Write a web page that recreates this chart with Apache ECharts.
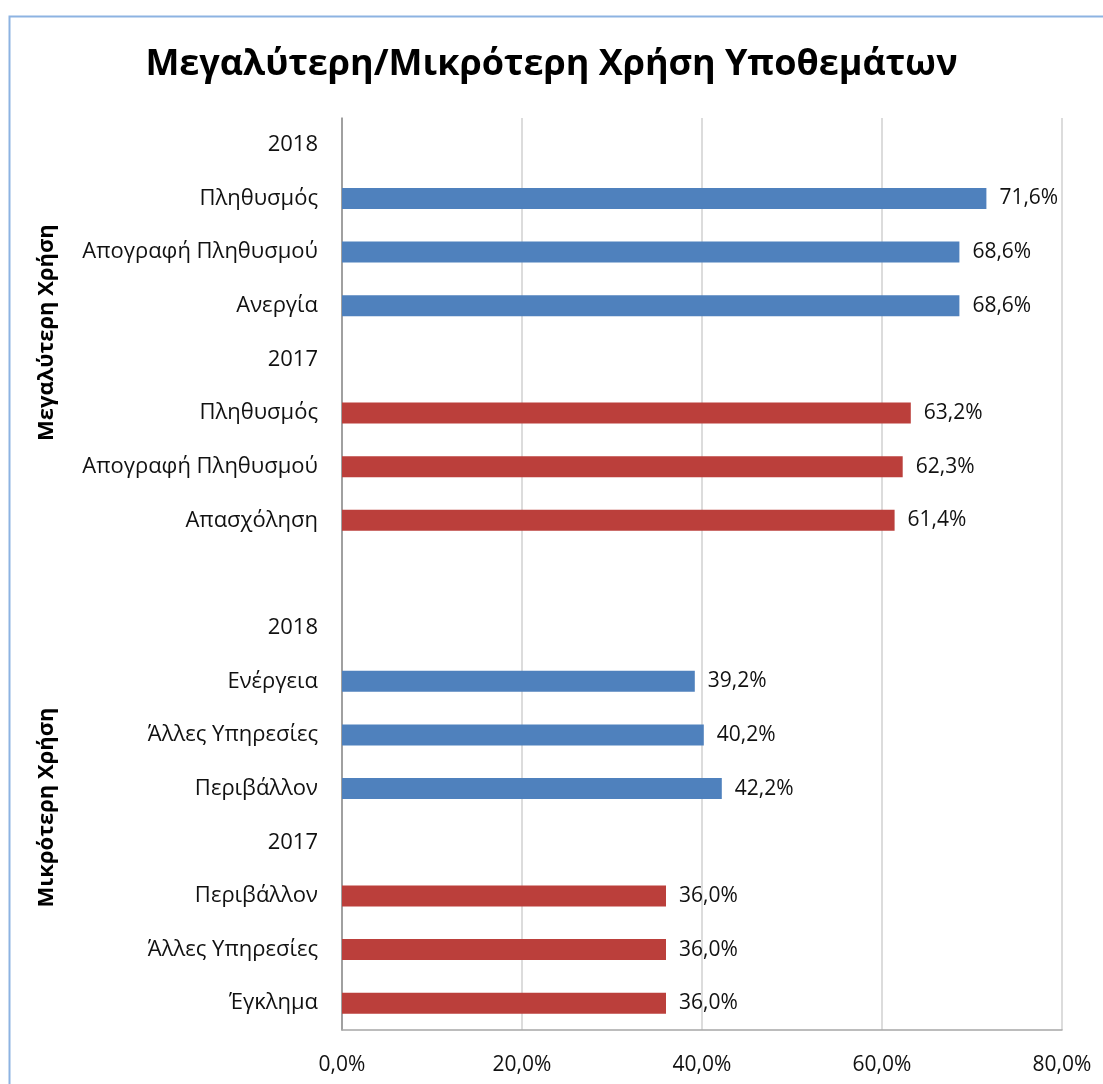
<!DOCTYPE html>
<html>
<head>
<meta charset="UTF-8">
<title>Μεγαλύτερη/Μικρότερη Χρήση Υποθεμάτων</title>
<style>
    html, body { margin: 0; padding: 0; background: #fff; }
    #chartArea { width: 1103px; height: 1084px; }
</style>
</head>
<body>
<div id="chartArea"></div>
<script src="https://cdn.jsdelivr.net/npm/echarts@6/dist/echarts.min.js"></script>
<script>
// rows top to bottom (year rows and one blank spacer row carry no bar)
var categories = [
    '2018', 'Πληθυσμός', 'Απογραφή Πληθυσμού', 'Ανεργία',
    '2017', 'Πληθυσμός', 'Απογραφή Πληθυσμού', 'Απασχόληση',
    '',
    '2018', 'Ενέργεια', 'Άλλες Υπηρεσίες', 'Περιβάλλον',
    '2017', 'Περιβάλλον', 'Άλλες Υπηρεσίες', 'Έγκλημα'
];
var values2018 = [null, 71.6, 68.6, 68.6, null, null, null, null, null,
                  null, 39.2, 40.2, 42.2, null, null, null, null];
var values2017 = [null, null, null, null, null, 63.2, 62.3, 61.4, null,
                  null, null, null, null, null, 36.0, 36.0, 36.0];
var xTicks = [0, 20, 40, 60, 80];
var groupNames = ['Μεγαλύτερη Χρήση', 'Μικρότερη Χρήση'];
var groupRows = [[0, 7], [9, 16]];

var font = '"Open Sans", "Noto Sans", sans-serif';
function pct(v) { return v.toFixed(1).replace('.', ',') + '%'; }

var myChart = echarts.init(document.getElementById('chartArea'));

myChart.setOption({
    animation: false,
    textStyle: { fontFamily: font },
    title: {
        text: 'Μεγαλύτερη/Μικρότερη Χρήση Υποθεμάτων',
        left: 'center',
        top: 42,
        textStyle: { fontSize: 36, fontWeight: 'bold', color: '#000', fontFamily: font }
    },
    grid: { left: 342, right: 41, top: 118, bottom: 54, containLabel: false },
    xAxis: {
        type: 'value',
        min: xTicks[0],
        max: xTicks[xTicks.length - 1],
        interval: 20,
        axisLine: { show: true, lineStyle: { color: '#a6a6a6', width: 1.5 } },
        axisTick: { show: false },
        splitLine: { show: true, lineStyle: { color: '#d0d0d0', width: 1.5 } },
        axisLabel: {
            margin: 25,
            fontSize: 21,
            color: '#111',
            formatter: function (v) { return pct(v); }
        }
    },
    yAxis: {
        type: 'category',
        inverse: true,
        data: categories,
        axisLine: { show: true, lineStyle: { color: '#8c8c8c', width: 1.5 } },
        axisTick: { show: false },
        splitLine: { show: false },
        axisLabel: { margin: 24, fontSize: 22, color: '#111', interval: 0 }
    },
    series: [
        {
            name: '2018',
            type: 'bar',
            data: values2018,
            barWidth: 21,
            barGap: '-100%',
            itemStyle: { color: '#4f81bd' },
            label: {
                show: true, position: 'right', distance: 13,
                fontSize: 21, color: '#111',
                formatter: function (p) { return pct(p.value); }
            }
        },
        {
            name: '2017',
            type: 'bar',
            data: values2017,
            barWidth: 21,
            barGap: '-100%',
            itemStyle: { color: '#bb3f3b' },
            label: {
                show: true, position: 'right', distance: 13,
                fontSize: 21, color: '#111',
                formatter: function (p) { return pct(p.value); }
            }
        }
    ]
});

// outer border and rotated group labels
var graphics = [{
    type: 'rect',
    shape: { x: 9.5, y: 16.5, width: 1200, height: 1200 },
    style: { fill: null, stroke: '#8db3e2', lineWidth: 2 },
    silent: true
}];
groupRows.forEach(function (r, i) {
    var y0 = myChart.convertToPixel({ yAxisIndex: 0 }, r[0]);
    var y1 = myChart.convertToPixel({ yAxisIndex: 0 }, r[1]);
    graphics.push({
        type: 'text',
        x: 47,
        y: (y0 + y1) / 2 - (i === 1 ? 8 : 0),
        rotation: Math.PI / 2,
        style: {
            text: groupNames[i],
            fontSize: 22,
            fontWeight: 'bold',
            fontFamily: font,
            fill: '#000',
            align: 'center',
            verticalAlign: 'middle'
        }
    });
});
myChart.setOption({ graphic: graphics });
</script>
</body>
</html>
